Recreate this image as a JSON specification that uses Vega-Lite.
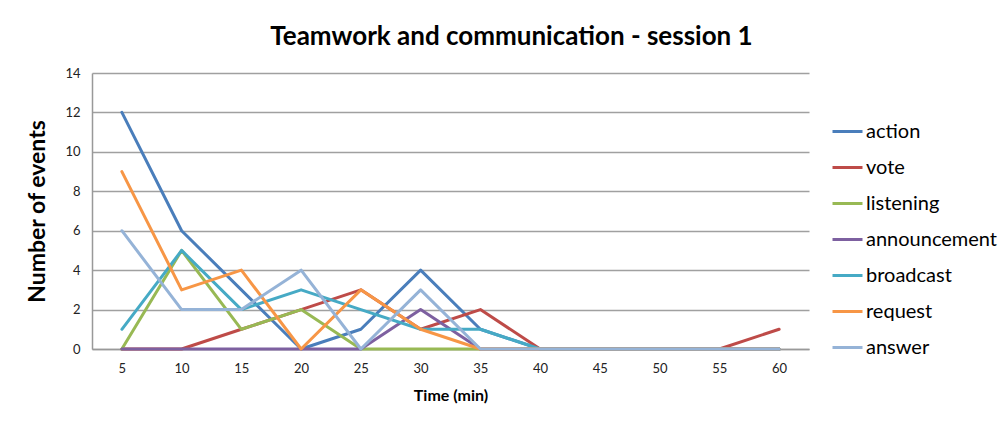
{
  "$schema": "https://vega.github.io/schema/vega-lite/v6.json",
  "autosize": {"type": "none"},
  "width": 717,
  "height": 276,
  "padding": {"left": 92, "top": 73, "right": 197, "bottom": 73},
  "background": "white",
  "config": {
    "font": "Lato",
    "view": {"stroke": null}
  },
  "title": {
    "text": "Teamwork and communication  - session 1",
    "fontSize": 26,
    "fontWeight": "bold",
    "color": "#000000",
    "anchor": "middle",
    "frame": "group",
    "dx": 61,
    "offset": 17
  },
  "data": {
    "values": [
      {"t": 5, "series": "action", "n": 12}, {"t": 10, "series": "action", "n": 6}, {"t": 15, "series": "action", "n": 3}, {"t": 20, "series": "action", "n": 0}, {"t": 25, "series": "action", "n": 1}, {"t": 30, "series": "action", "n": 4}, {"t": 35, "series": "action", "n": 1}, {"t": 40, "series": "action", "n": 0}, {"t": 45, "series": "action", "n": 0}, {"t": 50, "series": "action", "n": 0}, {"t": 55, "series": "action", "n": 0}, {"t": 60, "series": "action", "n": 0},
      {"t": 5, "series": "vote", "n": 0}, {"t": 10, "series": "vote", "n": 0}, {"t": 15, "series": "vote", "n": 1}, {"t": 20, "series": "vote", "n": 2}, {"t": 25, "series": "vote", "n": 3}, {"t": 30, "series": "vote", "n": 1}, {"t": 35, "series": "vote", "n": 2}, {"t": 40, "series": "vote", "n": 0}, {"t": 45, "series": "vote", "n": 0}, {"t": 50, "series": "vote", "n": 0}, {"t": 55, "series": "vote", "n": 0}, {"t": 60, "series": "vote", "n": 1},
      {"t": 5, "series": "listening", "n": 0}, {"t": 10, "series": "listening", "n": 5}, {"t": 15, "series": "listening", "n": 1}, {"t": 20, "series": "listening", "n": 2}, {"t": 25, "series": "listening", "n": 0}, {"t": 30, "series": "listening", "n": 0}, {"t": 35, "series": "listening", "n": 0}, {"t": 40, "series": "listening", "n": 0}, {"t": 45, "series": "listening", "n": 0}, {"t": 50, "series": "listening", "n": 0}, {"t": 55, "series": "listening", "n": 0}, {"t": 60, "series": "listening", "n": 0},
      {"t": 5, "series": "announcement", "n": 0}, {"t": 10, "series": "announcement", "n": 0}, {"t": 15, "series": "announcement", "n": 0}, {"t": 20, "series": "announcement", "n": 0}, {"t": 25, "series": "announcement", "n": 0}, {"t": 30, "series": "announcement", "n": 2}, {"t": 35, "series": "announcement", "n": 0}, {"t": 40, "series": "announcement", "n": 0}, {"t": 45, "series": "announcement", "n": 0}, {"t": 50, "series": "announcement", "n": 0}, {"t": 55, "series": "announcement", "n": 0}, {"t": 60, "series": "announcement", "n": 0},
      {"t": 5, "series": "broadcast", "n": 1}, {"t": 10, "series": "broadcast", "n": 5}, {"t": 15, "series": "broadcast", "n": 2}, {"t": 20, "series": "broadcast", "n": 3}, {"t": 25, "series": "broadcast", "n": 2}, {"t": 30, "series": "broadcast", "n": 1}, {"t": 35, "series": "broadcast", "n": 1}, {"t": 40, "series": "broadcast", "n": 0}, {"t": 45, "series": "broadcast", "n": 0}, {"t": 50, "series": "broadcast", "n": 0}, {"t": 55, "series": "broadcast", "n": 0}, {"t": 60, "series": "broadcast", "n": 0},
      {"t": 5, "series": "request", "n": 9}, {"t": 10, "series": "request", "n": 3}, {"t": 15, "series": "request", "n": 4}, {"t": 20, "series": "request", "n": 0}, {"t": 25, "series": "request", "n": 3}, {"t": 30, "series": "request", "n": 1}, {"t": 35, "series": "request", "n": 0}, {"t": 40, "series": "request", "n": 0}, {"t": 45, "series": "request", "n": 0}, {"t": 50, "series": "request", "n": 0}, {"t": 55, "series": "request", "n": 0}, {"t": 60, "series": "request", "n": 0},
      {"t": 5, "series": "answer", "n": 6}, {"t": 10, "series": "answer", "n": 2}, {"t": 15, "series": "answer", "n": 2}, {"t": 20, "series": "answer", "n": 4}, {"t": 25, "series": "answer", "n": 0}, {"t": 30, "series": "answer", "n": 3}, {"t": 35, "series": "answer", "n": 0}, {"t": 40, "series": "answer", "n": 0}, {"t": 45, "series": "answer", "n": 0}, {"t": 50, "series": "answer", "n": 0}, {"t": 55, "series": "answer", "n": 0}, {"t": 60, "series": "answer", "n": 0}
    ]
  },
  "mark": {"type": "line", "strokeWidth": 3, "strokeCap": "round", "strokeJoin": "round"},
  "encoding": {
    "x": {
      "field": "t",
      "type": "ordinal",
      "scale": {"type": "point", "padding": 0.5},
      "axis": {
        "title": "Time (min)",
        "titleFont": "Lato",
        "titleFontSize": 16,
        "titleFontWeight": "bold",
        "titleColor": "#000000",
        "titlePadding": 12,
        "labelAngle": 0,
        "labelFontSize": 13,
        "labelColor": "#222222",
        "labelPadding": 13,
        "ticks": false,
        "grid": false,
        "domainColor": "#999999",
        "domainWidth": 1.5
      }
    },
    "y": {
      "field": "n",
      "type": "quantitative",
      "scale": {"domain": [0, 14], "nice": false},
      "axis": {
        "title": "Number of events",
        "titleFontSize": 23,
        "titleFontWeight": "bold",
        "titleColor": "#000000",
        "titlePadding": 15,
        "values": [0, 2, 4, 6, 8, 10, 12, 14],
        "labelFontSize": 13,
        "labelColor": "#222222",
        "labelPadding": 12,
        "ticks": false,
        "gridColor": "#a0a0a0",
        "gridWidth": 1.5,
        "domainColor": "#999999",
        "domainWidth": 1.5
      }
    },
    "color": {
      "field": "series",
      "type": "nominal",
      "scale": {
        "domain": ["action", "vote", "listening", "announcement", "broadcast", "request", "answer"],
        "range": ["#4a7ebb", "#be4b48", "#98b954", "#7d60a0", "#46aac5", "#f79646", "#95b3d7"]
      },
      "legend": {
        "title": null,
        "orient": "none",
        "legendX": 739,
        "legendY": 42,
        "symbolType": "stroke",
        "symbolSize": 900,
        "symbolStrokeWidth": 3,
        "labelFontSize": 20,
        "labelColor": "#000000",
        "labelOffset": 2,
        "rowPadding": 9
      }
    }
  }
}
